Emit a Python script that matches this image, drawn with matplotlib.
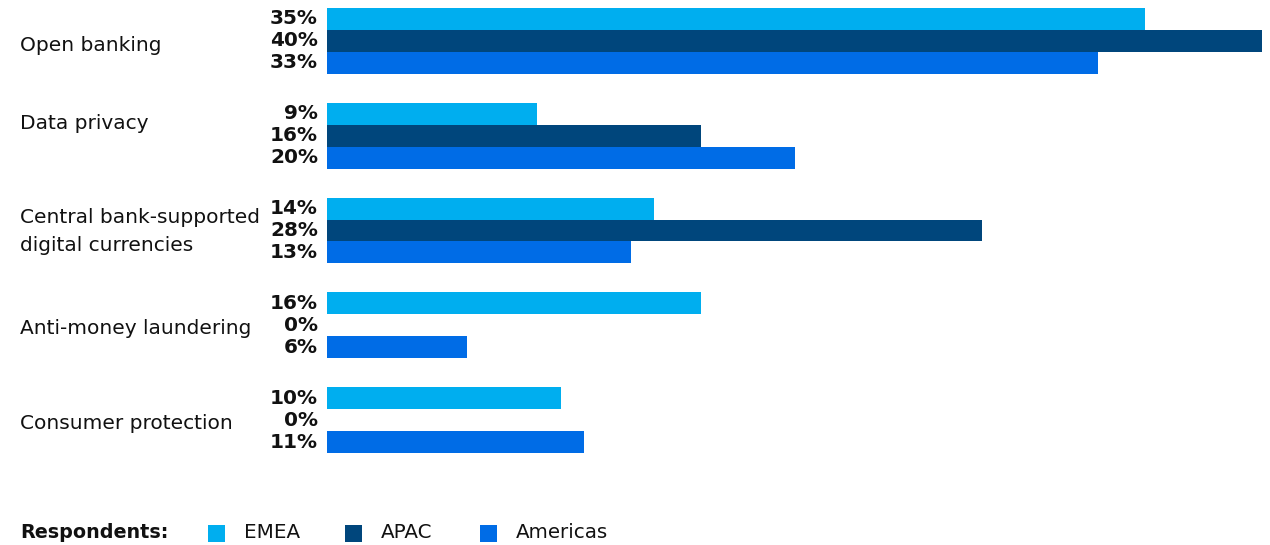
import matplotlib
matplotlib.use("Agg")
import matplotlib.pyplot as plt
from matplotlib.patches import Rectangle
from matplotlib.transforms import blended_transform_factory

categories = ["Open banking", "Data privacy", "Central bank-supported\ndigital currencies",
              "Anti-money laundering", "Consumer protection"]
series_names = ["EMEA", "APAC", "Americas"]
emea = [35, 9, 14, 16, 10]
apac = [40, 16, 28, 0, 0]
americas = [33, 20, 13, 6, 11]
colors = ["#00AEEF", "#00467C", "#006CE6"]

W, H = 1270, 545
fig = plt.figure(figsize=(W / 100, H / 100), dpi=100)
ax = fig.add_axes([327 / W, 1 - 453 / H, (1262 - 327) / W, (453 - 8) / H])

spacing = 4.31
bar_h = 1.0
label_dy = [0.2, -0.55, 0.05, 0.15, 0.15]
for s, (name, vals, col) in enumerate(zip(series_names, [emea, apac, americas], colors)):
    ys = [i * spacing + (s - 1) * bar_h for i in range(len(categories))]
    ax.barh(ys, vals, height=bar_h, color=col, linewidth=0)
    for y, v in zip(ys, vals):
        ax.annotate(f"{v}%", xy=(0, y), xycoords="data", xytext=(-9, 0),
                    textcoords="offset pixels", ha="right", va="center",
                    fontsize=14.4, fontweight="bold", color="#111111")

ax.set_xlim(0, 40)
ax.set_ylim((len(categories) - 1) * spacing + 1.5, -1.5)
ax.axis("off")

tr = blended_transform_factory(fig.transFigure, ax.transData)
for i, cat in enumerate(categories):
    ax.text(20 / W, i * spacing + label_dy[i], cat, transform=tr, ha="left", va="center",
            fontsize=14.5, color="#111111", linespacing=1.55)

# legend
ly = 1 - 533 / H
fig.text(20 / W, ly, "Respondents:", ha="left", va="center", fontsize=13.8,
         fontweight="bold", color="#111111")
sq_x = [208, 345, 480]
sz = 17
for x, name, col in zip(sq_x, series_names, colors):
    fig.patches.append(Rectangle((x / W, ly - (sz / 2) / H), sz / W, sz / H,
                                 transform=fig.transFigure, facecolor=col, edgecolor="none"))
    fig.text((x + 36) / W, ly, name, ha="left", va="center", fontsize=14.3,
             color="#111111")

fig.savefig("out.png", dpi=100, facecolor="white")
